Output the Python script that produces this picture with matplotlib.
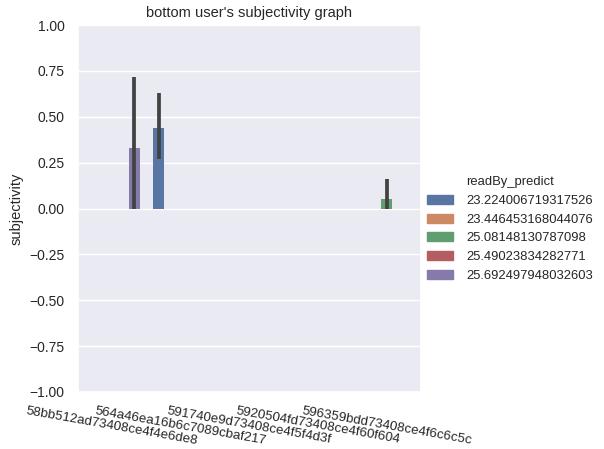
import matplotlib
matplotlib.use("Agg")
import matplotlib.pyplot as plt
import seaborn as sns
import numpy as np
from matplotlib.patches import Patch

users = ["58bb512ad73408ce4f4e6de8", "564a46ea16b6c7089cbaf217",
         "591740e9d73408ce4f5f4d3f", "5920504fd73408ce4f60f604",
         "596359bdd73408ce4f6c6c5c"]
readby_levels = ["23.224006719317526", "23.446453168044076", "25.08148130787098",
                 "25.49023834282771", "25.692497948032603"]

# (user index, hue index, mean subjectivity, ci low, ci high)
bar_user = [0, 1, 4]
bar_hue = [4, 0, 2]
bar_mean = [0.33, 0.44, 0.05]
ci_low = [0.0, 0.27, 0.0]
ci_high = [0.715, 0.63, 0.163]

sns.set_theme(style="darkgrid")
plt.rcParams['font.family'] = ['Liberation Sans', 'DejaVu Sans']

# seaborn bars are drawn at 0.75 saturation
palette = [sns.desaturate(c, 0.75) for c in sns.color_palette()[:5]]

fig = plt.figure(figsize=(6.04, 4.49), dpi=100)
ax = fig.add_axes([0.129, 0.127, 0.568, 0.817])

n_hue = len(readby_levels)
width = 0.8 / n_hue
for u, h, m, lo, hi in zip(bar_user, bar_hue, bar_mean, ci_low, ci_high):
    x = u - 0.4 + width * (h + 0.5)
    ax.bar(x, m, width=width, color=palette[h], edgecolor="none")
    ax.plot([x, x], [lo, hi], color=".26", lw=2.7, solid_capstyle="butt")

ax.set_xlim(-0.5, len(users) - 0.5)
ax.set_ylim(-1, 1)
ax.xaxis.grid(False)
ax.set_xticks(range(len(users)))
ax.set_xticklabels(users, rotation=-10, ha="center", fontsize=9.6)
ax.tick_params(axis="y", labelsize=10)
ax.set_ylabel("subjectivity", fontsize=10.5)
ax.set_xlabel("")
ax.set_title("bottom user's subjectivity graph", fontsize=10.5)

handles = [Patch(color=palette[i], label=lvl) for i, lvl in enumerate(readby_levels)]
fig.legend(handles=handles, title="readBy_predict", loc="center left",
           bbox_to_anchor=(0.688, 0.49), frameon=False, fontsize=9.4,
           title_fontsize=9.4, handlelength=2.0, handletextpad=1.0)

fig.savefig("out.png", dpi=100)
